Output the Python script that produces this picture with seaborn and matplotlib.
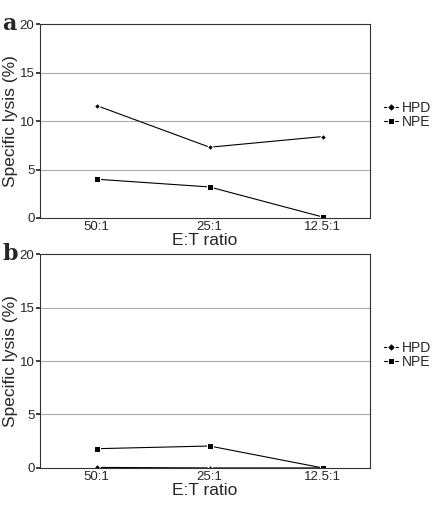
import matplotlib
matplotlib.use("Agg")
import matplotlib.pyplot as plt
import seaborn as sns
import pandas as pd

categories = ["50:1", "25:1", "12.5:1"]
a_hpd = [11.6, 7.3, 8.4]
a_npe = [4.0, 3.2, 0.1]
b_hpd = [0.05, 0.0, 0.0]
b_npe = [1.8, 2.05, 0.0]
series_names = ["HPD", "NPE"]
yticks = [0, 5, 10, 15, 20]

sns.set_theme(style="white")
plt.rcParams['font.family'] = ['Liberation Sans', 'DejaVu Sans']

fig = plt.figure(figsize=(4.35, 5.24), dpi=100)
ax_a = fig.add_axes([0.092, 0.584, 0.759, 0.370])
ax_b = fig.add_axes([0.092, 0.107, 0.759, 0.408])

def make_df(hpd, npe):
    rows = []
    for i, c in enumerate(categories):
        rows.append({"pos": i, "cat": c, "series": "HPD", "val": hpd[i]})
        rows.append({"pos": i, "cat": c, "series": "NPE", "val": npe[i]})
    return pd.DataFrame(rows)

for ax, hpd, npe, letter in [(ax_a, a_hpd, a_npe, "a"), (ax_b, b_hpd, b_npe, "b")]:
    df = make_df(hpd, npe)
    sns.lineplot(data=df, x="pos", y="val", hue="series", style="series",
                 hue_order=series_names, style_order=series_names,
                 palette={"HPD": "black", "NPE": "black"},
                 markers={"HPD": "D", "NPE": "s"}, dashes=False,
                 markersize=4, linewidth=0.8, ax=ax, legend=True)
    ax.set_xlim(-0.5, 2.42)
    ax.set_ylim(0, 20)
    ax.set_yticks(yticks)
    ax.set_yticklabels([str(t) for t in yticks], fontsize=9.5)
    ax.set_xticks(range(len(categories)))
    ax.set_xticklabels(categories, fontsize=9.5)
    ax.tick_params(axis="x", length=0, pad=2)
    ax.tick_params(axis="y", length=3, pad=1, direction="out", left=True)
    for y in [5, 10, 15]:
        ax.axhline(y, color="#aaaaaa", linewidth=0.8, zorder=0)
    for s in ax.spines.values():
        s.set_color("#333333")
        s.set_linewidth(0.8)
    ax.set_ylabel("Specific lysis (%)", fontsize=12.5, labelpad=1)
    ax.set_xlabel("E:T ratio", fontsize=12.5, labelpad=0)
    leg = ax.legend(loc="center left", bbox_to_anchor=(1.0, 0.53), frameon=False,
                    fontsize=10, handlelength=1.0, handletextpad=0.3,
                    labelspacing=0.0, borderaxespad=0.6)
    for h in leg.legend_handles:
        h.set_markersize(4)
    ax.text(-0.115, 1.0, letter, transform=ax.transAxes, fontsize=16,
            fontweight="bold", family="DejaVu Serif", ha="left", va="center")

for ax in (ax_a, ax_b):
    for ln in ax.get_lines():
        if ln.get_marker() == "D":
            ln.set_markersize(3)

fig.savefig("out.png", dpi=100)
